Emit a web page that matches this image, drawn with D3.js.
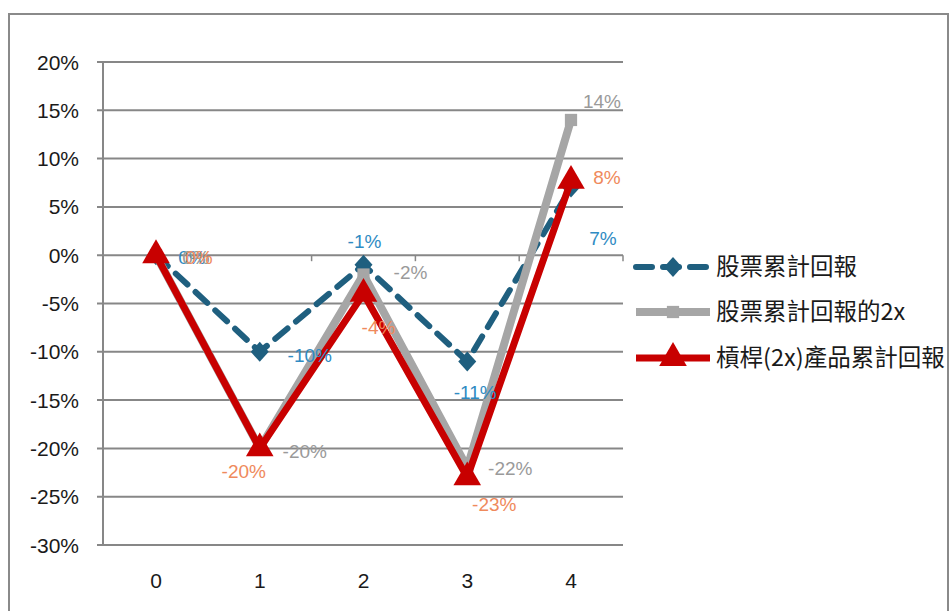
<!DOCTYPE html>
<html><head><meta charset="utf-8">
<script src="https://cdn.jsdelivr.net/npm/d3@7/dist/d3.min.js"></script>
<style>html,body{margin:0;padding:0;background:#fff;}</style>
</head><body><svg id="c" width="950" height="611"></svg>
<script>
const categories = ["0","1","2","3","4"];
const yTicks = [20,15,10,5,0,-5,-10,-15,-20,-25,-30];
const seriesNames = ["股票累計回報","股票累計回報的2x","槓桿(2x)產品累計回報"];
const stock = [0,-10,-1,-11,7];
const stock2x = [0,-20,-2,-22,14];
const leveraged = [0,-20,-4,-23,7.7];
const stockLabels = ["0%","-10%","-1%","-11%","7%"];
const stock2xLabels = ["0%","-20%","-2%","-22%","14%"];
const leveragedLabels = ["0%","-20%","-4%","-23%","8%"];

const svg = d3.select("#c");
const F = "'Liberation Sans', Arial, sans-serif";
const CJK = "'Noto Sans CJK TC', 'Noto Sans CJK SC', sans-serif";

// outer chart border
svg.append("rect").attr("x",9).attr("y",14).attr("width",939).attr("height",620)
  .attr("fill","#fff").attr("stroke","#8a8a8a").attr("stroke-width",2);

const x = d3.scalePoint().domain(categories).range([156,571]);
const xb = d3.scaleBand().domain(categories).range([104,623]);
const y = d3.scaleLinear().domain([-30,20]).range([545,62]);

// gridlines
svg.append("g").selectAll("line").data(yTicks).join("line")
  .attr("x1",97).attr("x2",623).attr("y1",d=>y(d)).attr("y2",d=>y(d))
  .attr("stroke","#878787").attr("stroke-width",2);
// y axis line
svg.append("line").attr("x1",103).attr("x2",103).attr("y1",y(20)).attr("y2",y(-30))
  .attr("stroke","#878787").attr("stroke-width",2);
// y tick labels
svg.append("g").selectAll("text").data(yTicks).join("text")
  .attr("x",79).attr("y",d=>y(d)).attr("dy","0.36em").attr("text-anchor","end")
  .attr("font-family",F).attr("font-size",21).attr("fill","#1a1a1a")
  .text(d=>d+"%");
// x axis ticks at category boundaries (on 0 line)
const bounds = categories.map(c=>xb(c)).concat([xb(categories[4])+xb.bandwidth()]);
svg.append("g").selectAll("line").data(bounds.slice(1)).join("line")
  .attr("x1",d=>d).attr("x2",d=>d).attr("y1",y(0)).attr("y2",y(0)+6)
  .attr("stroke","#878787").attr("stroke-width",1.5);
// x labels
svg.append("g").selectAll("text").data(categories).join("text")
  .attr("x",d=>x(d)).attr("y",580).attr("dy","0.36em").attr("text-anchor","middle")
  .attr("font-family",F).attr("font-size",21).attr("fill","#1a1a1a").text(d=>d);

const series = [
  {name:seriesNames[0], vals:stock, labels:stockLabels, color:"#1f5f7f", width:6, dash:"16 11", labelColor:"#2f8bc3", marker:"diamond",
   off:[[36,2],[50,3],[1,-24],[8,31],[32,51]]},
  {name:seriesNames[1], vals:stock2x, labels:stock2xLabels, color:"#a6a6a6", width:8, dash:null, labelColor:"#9a9a9a", marker:"square",
   off:[[40,2],[45,3],[47,-2],[43,0],[31,-19]]},
  {name:seriesNames[2], vals:leveraged, labels:leveragedLabels, color:"#c80000", width:7, dash:null, labelColor:"#ef8a5c", marker:"triangle",
   off:[[43,2],[-16,23],[15,33],[27,27],[36,-4]]}
];

function markerPath(type){
  if(type==="diamond") return "M0,-10L9,0L0,10L-9,0Z";
  if(type==="square") return d3.symbol(d3.symbolSquare,150)();
  return d3.symbol(d3.symbolTriangle,330)();
}

const line = d3.line().x((d,i)=>x(categories[i])).y(d=>y(d));
series.forEach(s=>{
  svg.append("path").attr("d",line(s.vals)).attr("fill","none")
    .attr("stroke",s.color).attr("stroke-width",s.width)
    .attr("stroke-linejoin","round")
    .attr("stroke-linecap",s.dash?"round":"butt")
    .attr("stroke-dasharray",s.dash);
  svg.append("g").selectAll("path").data(s.vals).join("path")
    .attr("d",markerPath(s.marker))
    .attr("transform",(d,i)=>`translate(${x(categories[i])},${y(d)})`)
    .attr("fill",s.color);
});
series.forEach(s=>{
  svg.append("g").selectAll("text").data(s.vals).join("text")
    .attr("x",(d,i)=>x(categories[i])+s.off[i][0])
    .attr("y",(d,i)=>y(d)+s.off[i][1]).attr("dy","0.36em")
    .attr("text-anchor","middle").attr("font-family",F).attr("font-size",19)
    .attr("fill",s.labelColor).text((d,i)=>s.labels[i]);
});

// legend
const legY = [267,312,358];
series.forEach((s,k)=>{
  const g = svg.append("g");
  g.append("line").attr("x1",636).attr("x2",710).attr("y1",legY[k]).attr("y2",legY[k])
    .attr("stroke",s.color).attr("stroke-width",s.width)
    .attr("stroke-linecap",s.dash?"round":"butt").attr("stroke-dasharray",s.dash);
  g.append("path").attr("d",markerPath(s.marker))
    .attr("transform",`translate(673,${legY[k]})`).attr("fill",s.color);
  g.append("text").attr("x",716).attr("y",legY[k]).attr("dy","0.36em")
    .attr("font-family",CJK).attr("font-size",23.5).attr("fill","#1a1a1a").text(s.name);
});
</script></body></html>
